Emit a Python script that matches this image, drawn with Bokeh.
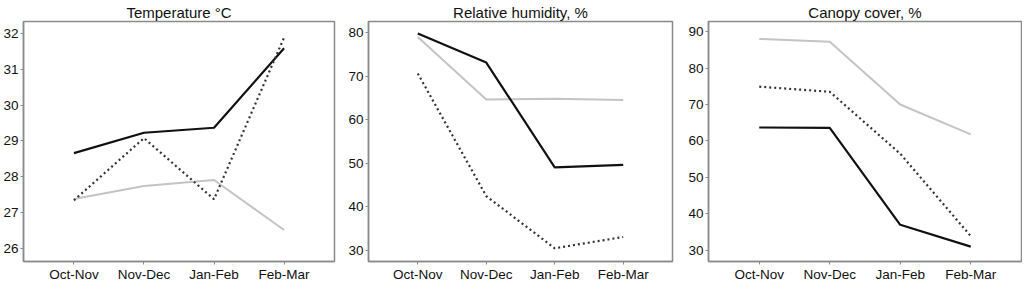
from bokeh.plotting import figure
from bokeh.layouts import row
from bokeh.models import Range1d, FixedTicker
from bokeh.embed import file_html
from bokeh.resources import INLINE

periods = ["Oct-Nov", "Nov-Dec", "Jan-Feb", "Feb-Mar"]

temp_black = [28.66, 29.23, 29.37, 31.59]
temp_dotted = [27.34, 29.08, 27.37, 31.89]
temp_grey = [27.38, 27.74, 27.91, 26.51]

rh_black = [79.8, 73.1, 49.0, 49.6]
rh_grey = [79.0, 64.6, 64.8, 64.5]
rh_dotted = [70.6, 42.4, 30.4, 33.0]

cc_grey = [88.0, 87.2, 70.0, 61.8]
cc_dotted = [74.9, 73.5, 56.5, 33.9]
cc_black = [63.7, 63.6, 37.0, 31.0]

temp_ticks = [26, 27, 28, 29, 30, 31, 32]
rh_ticks = [30, 40, 50, 60, 70, 80]
cc_ticks = [30, 40, 50, 60, 70, 80, 90]

FONT = "Liberation Sans"
FRAME = "#8a8a8a"


def panel(title, black, grey, dotted, ticks, ylo, yhi, width, border_left, border_right):
    p = figure(width=width, height=284, output_backend="svg", toolbar_location=None,
               x_range=Range1d(-0.72, 3.72), y_range=Range1d(ylo, yhi),
               min_border_left=border_left, min_border_right=border_right,
               min_border_top=2, min_border_bottom=0)
    xs = list(range(len(periods)))
    p.line(xs, grey, line_color="#c4c4c4", line_width=2)
    p.line(xs, black, line_color="#111111", line_width=2.2)
    p.line(xs, dotted, line_color="#333333", line_width=2.2, line_dash="2 3")
    p.title.text = title
    p.title.align = "center"
    p.title.text_font = FONT
    p.title.text_font_size = "15px"
    p.title.text_font_style = "normal"
    p.title.text_color = "#111111"
    p.title.offset = 0
    p.title.standoff = 2
    p.xgrid.visible = False
    p.ygrid.visible = False
    p.outline_line_color = FRAME
    p.outline_line_width = 1.5
    for ax in (p.xaxis, p.yaxis):
        ax.axis_line_color = FRAME
        ax.axis_line_width = 1.5
        ax.major_tick_line_color = FRAME
        ax.major_tick_out = 3
        ax.major_tick_in = 0
        ax.minor_tick_line_color = None
        ax.major_label_text_font = FONT
        ax.major_label_text_font_size = "13.5px"
        ax.major_label_text_color = "#111111"
        ax.major_label_standoff = 2
    p.xaxis.ticker = FixedTicker(ticks=xs)
    p.xaxis.major_label_overrides = {i: s for i, s in enumerate(periods)}
    p.yaxis.ticker = FixedTicker(ticks=ticks)
    return p


p1 = panel("Temperature \u00b0C", temp_black, temp_grey, temp_dotted, temp_ticks, 25.63, 32.34, 340, 20, 6)
p2 = panel("Relative humidity, %", rh_black, rh_grey, rh_dotted, rh_ticks, 27.36, 82.55, 340, 28, 8)
p3 = panel("Canopy cover, %", cc_black, cc_grey, cc_dotted, cc_ticks, 26.93, 92.78, 342, 28, 1)

layout = row(p1, p2, p3)
open("out.html", "w").write(file_html(layout, INLINE))
